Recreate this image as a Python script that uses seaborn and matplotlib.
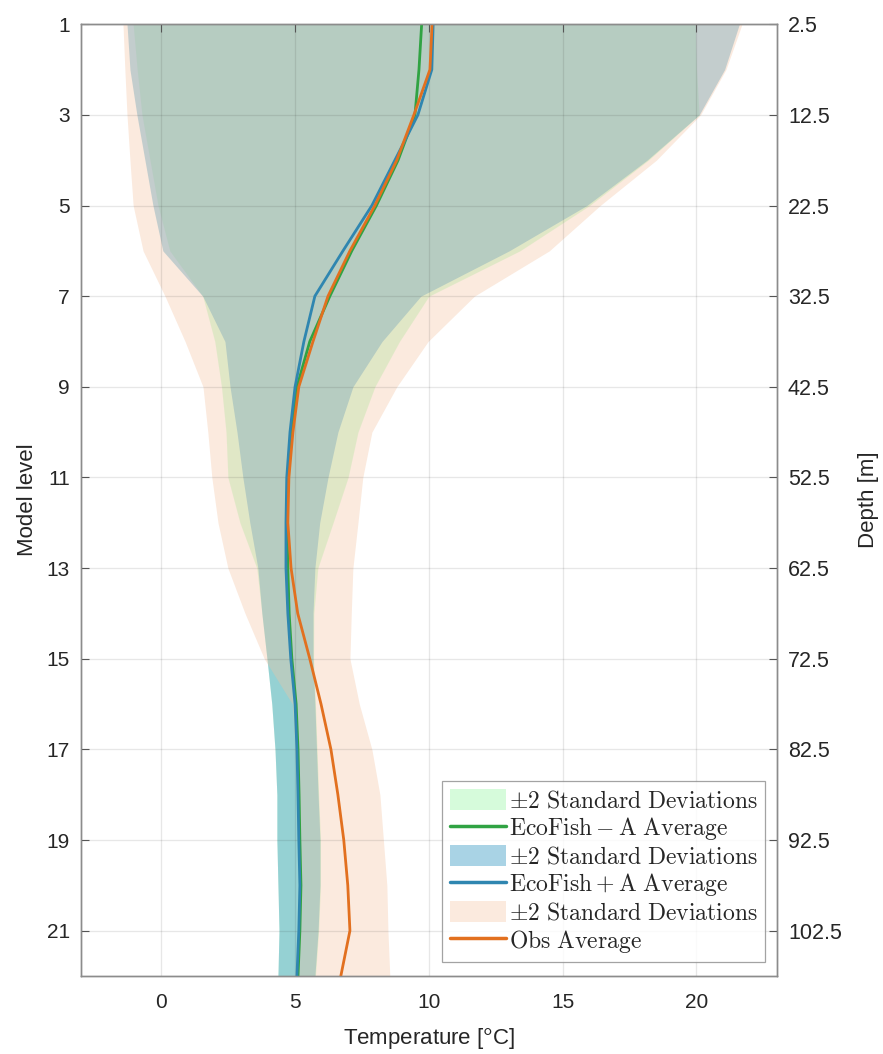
import matplotlib
matplotlib.use("Agg")
import matplotlib.pyplot as plt
import numpy as np
import pandas as pd
import seaborn as sns
from matplotlib.lines import Line2D
from matplotlib.patches import Patch

# model levels and values
levels = np.arange(1, 23)

obs_mean = [10.12, 10.04, 9.44, 8.80, 7.98, 7.05, 6.23, 5.67, 5.14, 4.92, 4.77,
            4.73, 4.85, 5.10, 5.55, 5.97, 6.34, 6.60, 6.82, 6.97, 7.05, 6.71]
eco_minus_mean = [9.73, 9.63, 9.48, 8.85, 8.04, 7.12, 6.30, 5.55, 5.07, 4.87, 4.73,
                  4.70, 4.73, 4.78, 4.88, 5.04, 5.11, 5.15, 5.18, 5.22, 5.18, 5.11]
eco_plus_mean = [10.16, 10.11, 9.59, 8.73, 7.87, 6.79, 5.74, 5.33, 5.00, 4.81, 4.69,
                 4.66, 4.66, 4.73, 4.84, 5.00, 5.07, 5.11, 5.14, 5.18, 5.14, 5.07]

eco_minus_lo = [-1.05, -0.90, -0.72, -0.42, -0.12, 0.32, 1.55, 2.00, 2.25, 2.42, 2.49,
                2.94, 3.57, 3.76, 3.95, 4.13, 4.25, 4.32, 4.32, 4.36, 4.40, 4.36]
eco_minus_hi = [19.95, 20.00, 20.10, 18.20, 16.00, 13.40, 10.00, 8.90, 7.98, 7.35, 6.98,
                6.42, 5.85, 5.70, 5.69, 5.76, 5.82, 5.88, 5.95, 5.95, 5.88, 5.76]
eco_plus_lo = [-1.28, -1.17, -0.91, -0.61, -0.31, 0.06, 1.55, 2.38, 2.57, 2.83, 3.05,
               3.31, 3.61, 3.76, 3.95, 4.13, 4.25, 4.32, 4.32, 4.36, 4.40, 4.36]
eco_plus_hi = [21.60, 21.05, 20.10, 18.15, 15.90, 13.00, 9.70, 8.25, 7.16, 6.60, 6.23,
               5.92, 5.74, 5.67, 5.67, 5.74, 5.80, 5.86, 5.93, 5.93, 5.86, 5.74]
obs_lo = [-1.43, -1.36, -1.28, -1.17, -1.05, -0.68, 0.14, 0.89, 1.56, 1.74, 1.89,
          2.12, 2.49, 3.13, 3.85, 4.90, 5.00, 5.05, 5.10, 5.15, 5.15, 5.00]
obs_hi = [21.70, 21.10, 20.15, 18.50, 16.40, 14.50, 11.70, 9.97, 8.80, 7.87, 7.53,
          7.35, 7.16, 7.10, 7.05, 7.40, 7.87, 8.17, 8.30, 8.43, 8.47, 8.54]

depth_ticks = [2.5, 12.5, 22.5, 32.5, 42.5, 52.5, 62.5, 72.5, 82.5, 92.5, 102.5]

sns.set_style("white")
plt.rcParams["font.family"] = ["Liberation Sans", "DejaVu Sans"]
plt.rcParams["mathtext.fontset"] = "cm"

fill_green = (175 / 255, 249 / 255, 185 / 255)
fill_blue = (85 / 255, 168 / 255, 204 / 255)
fill_peach = (244 / 255, 195 / 255, 161 / 255)
line_green = "#30a343"
line_blue = "#2f86b0"
line_orange = "#e2701f"
alpha_green = 0.5
alpha_blue = 0.5
alpha_peach = 0.35

df = pd.DataFrame({
    "level": levels,
    "obs": obs_mean,
    "eco_minus": eco_minus_mean,
    "eco_plus": eco_plus_mean,
})

fig = plt.figure(figsize=(8.83, 10.54), dpi=100)
ax = fig.add_axes([0.0917, 0.074, 0.788, 0.903])

ax.fill_betweenx(levels, eco_minus_lo, eco_minus_hi, color=fill_green,
                 alpha=alpha_green, lw=0, zorder=1)
ax.fill_betweenx(levels, eco_plus_lo, eco_plus_hi, color=fill_blue,
                 alpha=alpha_blue, lw=0, zorder=1)
ax.fill_betweenx(levels, obs_lo, obs_hi, color=fill_peach,
                 alpha=alpha_peach, lw=0, zorder=1)

sns.lineplot(data=df, x="eco_minus", y="level", orient="y", sort=False,
             color=line_green, lw=2.0, ax=ax, zorder=3)
sns.lineplot(data=df, x="eco_plus", y="level", orient="y", sort=False,
             color=line_blue, lw=2.0, ax=ax, zorder=3)
sns.lineplot(data=df, x="obs", y="level", orient="y", sort=False,
             color=line_orange, lw=2.0, ax=ax, zorder=3)

ax.set_xlim(-3, 23)
ax.set_ylim(22, 1)
ax.set_xticks([0, 5, 10, 15, 20])
ax.set_yticks(np.arange(1, 22, 2))
ax.grid(True, color=(0.15, 0.15, 0.15), alpha=0.11, lw=0.9)
ax.set_axisbelow(False)
ax.set_xlabel("Temperature [$^{\\mathsf{o}}$C]", fontsize=16, color="#262626", labelpad=10)
ax.set_ylabel("Model level", fontsize=16, color="#262626", labelpad=6)
ax.tick_params(axis="both", direction="in", length=6, width=0.8, color="#555555",
               labelsize=15, labelcolor="#262626", top=True, pad=8)
ax.tick_params(axis="x", pad=12)
ax.tick_params(axis="y", right=False)
for sp in ax.spines.values():
    sp.set_color("#8c8c8c")
    sp.set_linewidth(1.0)

ax2 = ax.twinx()
ax2.set_ylim(5 * 22 - 2.5, 5 * 1 - 2.5)
ax2.set_yticks(depth_ticks)
ax2.set_yticklabels([f"{d:.1f}" for d in depth_ticks])
ax2.set_ylabel("Depth [m]", fontsize=16, color="#262626", labelpad=12)
ax2.tick_params(axis="y", direction="in", length=6, width=0.8, color="#555555",
                labelsize=15.5, labelcolor="#262626", pad=8)
for sp in ax2.spines.values():
    sp.set_color("#8c8c8c")
    sp.set_linewidth(1.0)
ax2.grid(False)

handles = [
    Patch(facecolor=fill_green, alpha=alpha_green, edgecolor="none"),
    Line2D([], [], color=line_green, lw=2.5),
    Patch(facecolor=fill_blue, alpha=alpha_blue, edgecolor="none"),
    Line2D([], [], color=line_blue, lw=2.5),
    Patch(facecolor=fill_peach, alpha=alpha_peach, edgecolor="none"),
    Line2D([], [], color=line_orange, lw=2.5),
]
labels = [
    r"$\pm2\ \mathrm{Standard\ Deviations}$",
    r"$\mathrm{EcoFish}-\mathrm{A\ Average}$",
    r"$\pm2\ \mathrm{Standard\ Deviations}$",
    r"$\mathrm{EcoFish}+\mathrm{A\ Average}$",
    r"$\pm2\ \mathrm{Standard\ Deviations}$",
    r"$\mathrm{Obs\ Average}$",
]
leg = ax2.legend(handles, labels, loc="lower right", bbox_to_anchor=(0.983, 0.015),
                 borderaxespad=0, fontsize=17, frameon=True, fancybox=False,
                 handlelength=2.4, handleheight=1.0, handletextpad=0.12,
                 labelspacing=0.12, borderpad=0.3)
leg.get_frame().set_edgecolor("#8c8c8c")
leg.get_frame().set_linewidth(0.9)

fig.savefig("out.png", dpi=100)
